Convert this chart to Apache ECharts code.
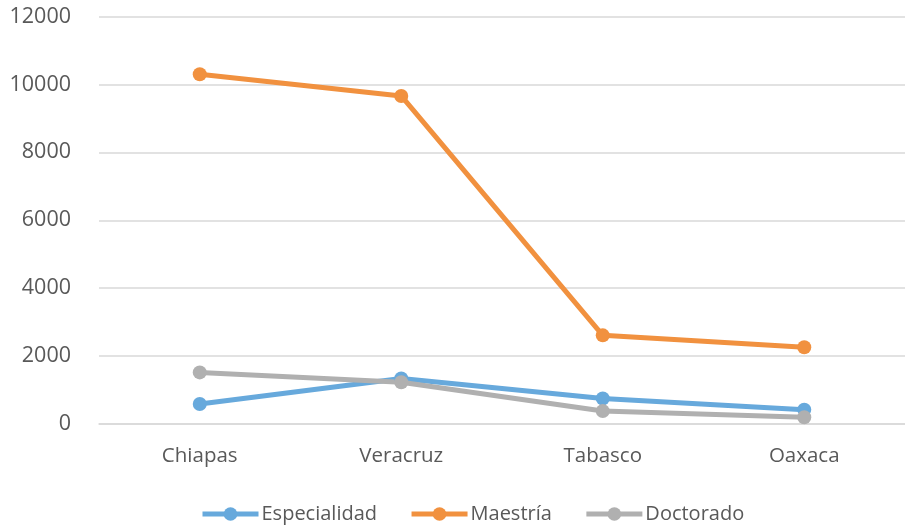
<!DOCTYPE html>
<html>
<head>
<meta charset="utf-8">
<script src="https://cdn.jsdelivr.net/npm/echarts@6/dist/echarts.min.js"></script>
<style>html,body{margin:0;padding:0;background:#fff}#c{width:905px;height:525px}</style>
</head>
<body>
<div id="c"></div>
<script>
const categories = ['Chiapas', 'Veracruz', 'Tabasco', 'Oaxaca'];
const especialidad = [590, 1340, 750, 420];
const maestria = [10300, 9660, 2610, 2260];
const doctorado = [1520, 1230, 380, 200];
const seriesNames = ['Especialidad', 'Maestría', 'Doctorado'];
const colors = ['#67A9DC', '#F1913F', '#B0B0B0'];

const chart = echarts.init(document.getElementById('c'), null, {renderer: 'canvas'});
const font = '"Open Sans", sans-serif';
function mk(name, data, color) {
  return {
    name: name, type: 'line', data: data,
    symbol: 'circle', symbolSize: 14,
    lineStyle: {width: 5, color: color},
    itemStyle: {color: color},
    emphasis: {disabled: true}
  };
}
chart.setOption({
  animation: false,
  grid: {left: 99, top: 16.5, width: 816, height: 407.5},
  xAxis: {
    type: 'category', data: categories, boundaryGap: true,
    axisLine: {show: true, lineStyle: {color: '#D9D9D9', width: 1.5}},
    axisTick: {show: false},
    axisLabel: {color: '#595959', fontSize: 20.5, fontFamily: font, margin: 22}
  },
  yAxis: {
    type: 'value', min: 0, max: 12000, interval: 2000,
    axisLine: {show: false}, axisTick: {show: false},
    splitLine: {lineStyle: {color: '#D9D9D9', width: 1.5}},
    axisLabel: {color: '#595959', fontSize: 21.5, fontFamily: font, margin: 28,
      formatter: function (v) { return String(v); }}
  },
  legend: {
    left: 195, top: 499, itemWidth: 56, itemHeight: 17, itemGap: 32,
    lineStyle: {width: 5},
    textStyle: {color: '#595959', fontSize: 20, fontFamily: font, padding: [0,0,0,-2]},
    data: seriesNames
  },
  series: [
    mk(seriesNames[0], especialidad, colors[0]),
    mk(seriesNames[1], maestria, colors[1]),
    mk(seriesNames[2], doctorado, colors[2])
  ]
});
</script>
</body>
</html>
